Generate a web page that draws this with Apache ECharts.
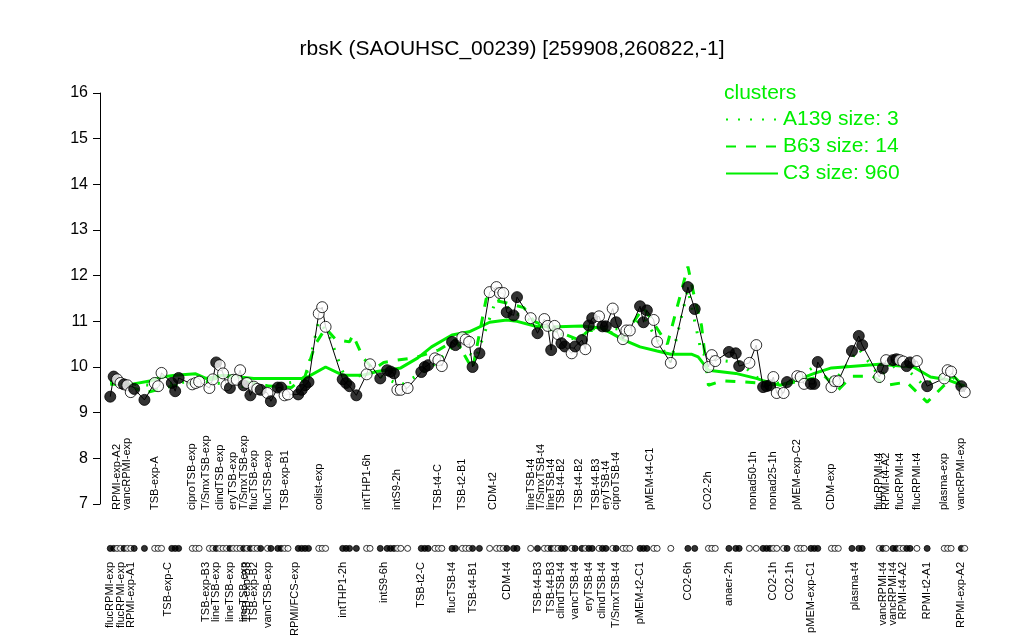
<!DOCTYPE html>
<html><head><meta charset="utf-8">
<script src="https://cdn.jsdelivr.net/npm/echarts@6/dist/echarts.min.js"></script>
<style>html,body{margin:0;padding:0;background:#fff}#c{width:1024px;height:640px}</style>
</head><body><div id="c"></div>
<script>
// sample slot positions along the x axis, expression values, filled (1) / open (0)
const sampleX = [3,4,5,6,7,8,9,10,13,16,17,18,21,22,23,27,28,29,32,33,34,35,36,37,38,39,40,41,42,43,44,45,46,47,49,50,52,53,54,55,58,59,60,61,64,65,66,71,72,73,75,78,79,82,84,85,86,87,88,90,94,95,96,98,99,100,103,104,106,107,108,109,111,114,116,117,118,119,121,122,126,128,130,131,132,133,134,135,136,138,139,141,142,143,144,146,147,148,150,151,153,154,155,158,159,160,162,163,167,172,174,178,179,180,184,186,187,190,192,194,195,196,197,198,200,201,204,205,206,208,209,210,214,215,216,220,222,223,228,229,230,232,233,234,235,236,237,239,242,247,248,249,252,253];
const sampleY = [9.35,9.79,9.73,9.65,9.62,9.6,9.45,9.52,9.28,9.65,9.58,9.87,9.65,9.47,9.76,9.62,9.65,9.68,9.54,9.73,10.1,10.04,9.86,9.6,9.54,9.72,9.72,9.93,9.6,9.65,9.38,9.57,9.52,9.5,9.43,9.25,9.55,9.55,9.38,9.4,9.4,9.5,9.6,9.67,11.17,11.31,10.88,9.73,9.65,9.58,9.38,9.84,10.06,9.75,9.93,9.9,9.86,9.5,9.5,9.54,9.89,10.0,10.04,10.19,10.15,10.02,10.55,10.48,10.65,10.6,10.55,10.0,10.3,11.64,11.75,11.62,11.62,11.2,11.13,11.53,11.07,10.74,11.05,10.9,10.37,10.9,10.72,10.52,10.45,10.3,10.45,10.59,10.39,10.91,11.07,11.11,10.89,10.89,11.28,10.98,10.61,10.8,10.8,11.33,10.98,11.24,11.03,10.55,10.09,11.75,11.27,10.0,10.26,10.13,10.33,10.3,10.02,10.09,10.48,9.56,9.58,9.6,9.78,9.43,9.43,9.67,9.8,9.78,9.63,9.63,9.63,10.11,9.56,9.69,9.69,10.35,10.68,10.48,9.78,9.97,10.15,10.15,10.17,10.15,10.12,10.02,10.1,10.13,9.58,9.75,9.93,9.9,9.58,9.45];
const sampleFilled = [1,1,0,0,1,0,0,1,1,0,0,0,1,1,1,0,0,0,0,0,1,0,0,0,1,0,0,0,1,0,1,0,0,1,0,1,1,1,0,0,1,1,1,1,0,0,0,1,1,1,1,0,0,1,1,1,1,0,0,0,1,1,1,0,0,0,1,1,0,0,0,1,1,0,0,0,0,1,1,1,0,1,0,0,1,0,0,1,1,0,1,1,0,1,1,0,1,1,0,1,0,0,0,1,1,1,0,0,0,1,1,0,0,0,1,1,1,0,0,1,1,1,0,0,0,1,0,0,0,1,1,1,0,0,0,1,1,1,0,1,0,1,1,0,0,1,1,0,1,0,0,0,1,0];

// cluster profiles (slot, value)
const c3X = [3,9,15,18,22,28,31,36,45,53,60,66,71,77,81,86,88,93,97,103,108,114,119,122,128,134,141,147,153,158,163,167,173,175,178,186,192,194,199,204,209,214,228,238,243,248,253];
const c3Y = [9.62,9.62,9.7,9.78,9.82,9.85,9.75,9.82,9.75,9.75,9.75,10.0,9.82,9.82,9.9,9.95,9.98,10.2,10.44,10.7,10.77,10.98,11.03,11.0,10.88,10.88,10.9,10.85,10.6,10.44,10.35,10.28,10.28,10.22,9.93,9.86,9.75,9.7,9.6,9.72,9.86,9.98,10.06,10.0,9.78,9.72,9.58];
const b63X = [3,9,14,22,31,37,47,56,60,63,66,69,73,74,77,80,83,87,92,99,104,109,113,119,124,127,133,140,143,148,153,159,166,172,174,176,178,182,193,199,205,212,216,220,226,230,236,242,247,250,253];
const b63Y = [9.7,9.55,9.45,9.6,9.7,9.8,9.6,9.55,9.8,10.5,10.85,10.6,10.55,10.7,10.2,9.95,10.1,10.15,10.2,10.37,10.6,9.95,11.5,11.4,11.3,11.0,10.8,10.6,10.8,10.8,10.65,11.3,10.5,12.2,11.5,10.9,9.6,9.7,9.65,9.6,9.7,9.8,9.5,9.8,9.8,9.6,9.67,9.23,9.6,9.78,9.55];
const a139X = [3,15,29,44,60,64,67,72,79,88,97,104,110,116,121,129,139,146,154,159,167,172,176,181,187,195,202,209,215,222,228,234,241,247,253];
const a139Y = [9.65,9.6,9.7,9.55,9.7,11.0,10.7,9.7,9.9,9.6,10.0,10.5,10.2,11.5,11.2,10.9,10.6,10.9,10.8,11.1,10.1,11.7,10.3,10.15,10.1,9.6,9.7,10.0,9.7,10.4,9.8,10.1,9.6,9.85,9.5];

const topTickSlots = [5,8,16,27,31,35,39,42,45,49,54,64,78,87,99,106,115,126,129,132,135,140,145,148,151,161,178,191,197,204,214,228,230,234,239,247,252];
const topTickLabels = ['RPMI-exp-A2','vancRPMI-exp','TSB-exp-A','ciproTSB-exp','T/SmxTSB-exp','clindTSB-exp','eryTSB-exp','T/SmxTSB-exp','flucTSB-exp','flucTSB-exp','TSB-exp-B1','colist-exp','intTHP1-6h','intS9-2h','TSB-t4-C','TSB-t2-B1','CDM-t2','lineTSB-t4','T/SmxTSB-t4','lineTSB-t4','TSB-t4-B2','TSB-t4-B2','TSB-t4-B3','eryTSB-t4','ciproTSB-t4','pMEM-t4-C1','CO2-2h','nonad50-1h','nonad25-1h','pMEM-exp-C2','CDM-exp','flucRPMI-t4','RPMI-t4-A2','flucRPMI-t4','flucRPMI-t4','plasma-exp','vancRPMI-exp'];
const bottomTickSlots = [3,6,9,20,31,34,38,42,43,45,49,57,71,83,94,103,109,119,128,132,135,139,143,147,151,158,172,184,197,202,208,221,229,232,235,242,252];
const bottomTickLabels = ['flucRPMI-exp','flucRPMI-exp','RPMI-exp-A1','TSB-exp-C','TSB-exp-B3','lineTSB-exp','lineTSB-exp','lineTSB-exp','TSB-exp-B3','TSB-exp-B2','vancTSB-exp','RPMI/FCS-exp','intTHP1-2h','intS9-6h','TSB-t2-C','flucTSB-t4','TSB-t4-B1','CDM-t4','TSB-t4-B3','TSB-t4-B3','clindTSB-t4','vancTSB-t4','eryTSB-t4','clindTSB-t4','T/SmxTSB-t4','pMEM-t2-C1','CO2-6h','anaer-2h','CO2-1h','CO2-1h','pMEM-exp-C1','plasma-t4','vancRPMI-t4','vancRPMI-t4','RPMI-t4-A2','RPMI-t2-A1','RPMI-exp-A2'];

const nSlots = 257;
const yMin = 7, yMax = 16;
const GREEN = '#00ee00';
const FONT = 'Liberation Sans, Arial, sans-serif';

function slotLabels(slots, labels) {
  const arr = new Array(nSlots).fill('');
  slots.forEach((s, i) => { arr[s] = arr[s] ? arr[s] : labels[i]; });
  return arr;
}
const zip = (xs, ys) => xs.map((x, i) => [x, ys[i]]);
const sampleItems = sampleX.map((x, i) => ({
  value: [x, sampleY[i]],
  itemStyle: { color: sampleFilled[i] ? '#000' : '#fff', borderColor: '#000', borderWidth: 1 }
}));
const dotItems = sampleX.map((x, i) => ({
  value: [x, 1],
  itemStyle: { color: sampleFilled[i] ? '#000' : '#fff', borderColor: '#000', borderWidth: 1 }
}));

const chart = echarts.init(document.getElementById('c'), null, { renderer: 'canvas' });
chart.setOption({
  animation: false,
  backgroundColor: '#fff',
  textStyle: { fontFamily: FONT },
  title: [
    { text: 'rbsK (SAOUHSC_00239) [259908,260822,-1]', left: 'center', top: 34,
      textStyle: { fontSize: 21, fontWeight: 'normal', color: '#000', fontFamily: FONT } },
    { text: 'clusters', left: 719, top: 78,
      textStyle: { fontSize: 21, fontWeight: 'normal', color: GREEN, fontFamily: FONT } }
  ],
  legend: {
    orient: 'vertical', left: 720, top: 104, itemWidth: 52, itemHeight: 14, itemGap: 6,
    itemStyle: { opacity: 0 },
    textStyle: { fontSize: 21, color: GREEN, fontFamily: FONT },
    data: ['A139 size: 3', 'B63 size: 14', 'C3 size: 960']
  },
  grid: [
    { left: 100, right: 49, top: 93, bottom: 136 },
    { left: 100, right: 49, top: 518, height: 38 }
  ],
  xAxis: [
    { type: 'value', gridIndex: 0, min: 0, max: nSlots - 1, show: false },
    { type: 'category', gridIndex: 1, position: 'top', data: slotLabels(topTickSlots, topTickLabels), boundaryGap: false,
      axisLine: { show: false }, axisTick: { show: false },
      axisLabel: { interval: 0, rotate: 90, fontSize: 11, margin: 8, color: '#000', fontFamily: FONT } },
    { type: 'category', gridIndex: 1, position: 'bottom', data: slotLabels(bottomTickSlots, bottomTickLabels), boundaryGap: false,
      axisLine: { show: false }, axisTick: { show: false },
      axisLabel: { interval: 0, rotate: 90, fontSize: 11, margin: 6, color: '#000', fontFamily: FONT } }
  ],
  yAxis: [
    { type: 'value', gridIndex: 0, min: yMin, max: yMax, interval: 1,
      axisLine: { show: true, lineStyle: { color: '#000' } },
      axisTick: { show: true, length: 7, lineStyle: { color: '#000' } },
      axisLabel: { fontSize: 16, color: '#000', margin: 12, fontFamily: FONT },
      splitLine: { show: false } },
    { type: 'value', gridIndex: 1, min: 0, max: 5, show: false }
  ],
  series: [
    { name: 'A139 size: 3', type: 'line', data: zip(a139X, a139Y), symbol: 'none', z: 3,
      lineStyle: { color: GREEN, width: 3, type: [2, 10] }, itemStyle: { color: GREEN } },
    { name: 'B63 size: 14', type: 'line', data: zip(b63X, b63Y), symbol: 'none', z: 3,
      lineStyle: { color: GREEN, width: 3, type: [10, 10] }, itemStyle: { color: GREEN } },
    { name: 'C3 size: 960', type: 'line', data: zip(c3X, c3Y), symbol: 'none', z: 3,
      lineStyle: { color: GREEN, width: 3 }, itemStyle: { color: GREEN } },
    { type: 'line', data: zip(sampleX, sampleY), symbol: 'none', z: 4,
      lineStyle: { color: '#000', width: 1 } },
    { type: 'scatter', data: sampleItems, symbol: 'circle', symbolSize: 11, z: 5 },
    { type: 'scatter', data: dotItems, xAxisIndex: 2, yAxisIndex: 1, symbol: 'circle', symbolSize: 6, z: 5 }
  ]
});
</script></body></html>
